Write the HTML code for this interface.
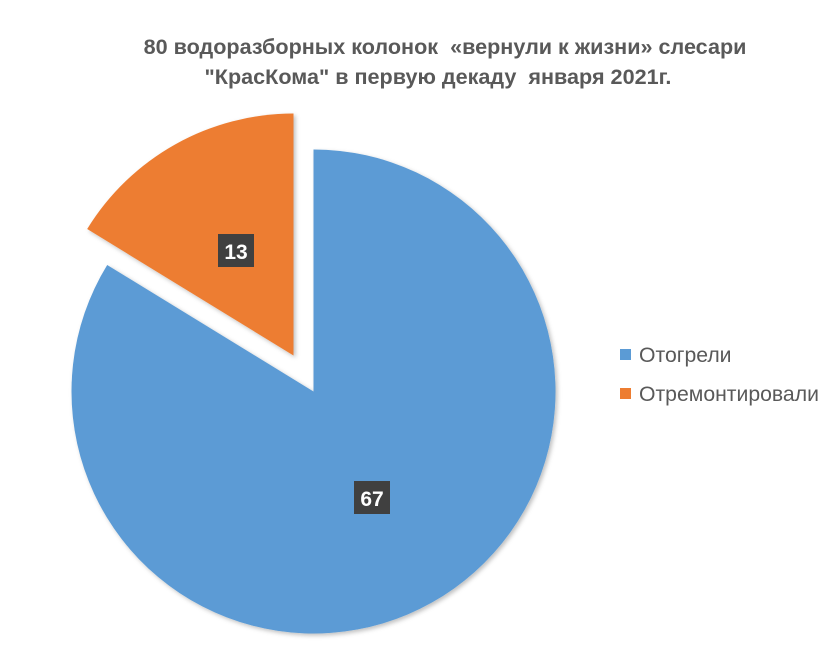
<!DOCTYPE html>
<html><head><meta charset="utf-8"><style>
body{margin:0;background:#fff;}
svg{display:block}
text{font-family:"Liberation Sans",sans-serif;white-space:pre}
</style></head><body>
<svg width="836" height="652" viewBox="0 0 836 652">
<rect width="836" height="652" fill="#fff"/>
<text x="445" y="54" text-anchor="middle" font-size="21.6" font-weight="bold" fill="#595959" xml:space="preserve">80 водоразборных колонок  «вернули к жизни» слесари</text>
<text x="438" y="84" text-anchor="middle" font-size="21.6" font-weight="bold" fill="#595959" xml:space="preserve">"КрасКома" в первую декаду  января 2021г.</text>
<defs><filter id="sh" x="-10%" y="-10%" width="120%" height="120%"><feDropShadow dx="2" dy="2" stdDeviation="2" flood-color="#000" flood-opacity="0.25"/></filter></defs>
<path filter="url(#sh)" d="M313.5,391.5 L313.5,149.5 A242,242 0 1 1 107.2,265 Z" fill="#5b9bd5"/>
<path filter="url(#sh)" d="M293.5,355.5 L87.2,229 A242,242 0 0 1 293.5,113.5 Z" fill="#ed7d31"/>
<rect x="218" y="234" width="36" height="33" fill="#404040"/>
<text x="236" y="259" text-anchor="middle" font-size="21" font-weight="bold" fill="#fff">13</text>
<rect x="354" y="481" width="36" height="33" fill="#404040"/>
<text x="372" y="506" text-anchor="middle" font-size="21" font-weight="bold" fill="#fff">67</text>
<rect x="620" y="349" width="11" height="11" fill="#5b9bd5"/>
<text x="639" y="362" font-size="21.2" fill="#595959">Отогрели</text>
<rect x="620" y="388" width="11" height="11" fill="#ed7d31"/>
<text x="639" y="401" font-size="21.2" fill="#595959">Отремонтировали</text>
</svg>
</body></html>
